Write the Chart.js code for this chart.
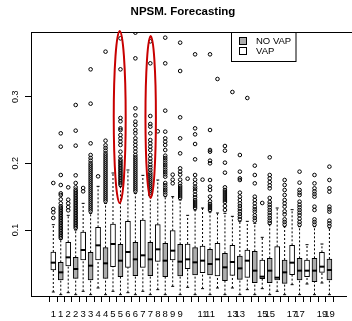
<!DOCTYPE html>
<html>
<head>
<meta charset="utf-8">
<title>NPSM. Forecasting</title>
<script src="https://cdn.jsdelivr.net/npm/chart.js@4.4.0/dist/chart.umd.min.js"></script>
<style>
  html, body { margin: 0; padding: 0; background: #fff; overflow: hidden; }
  #wrap { width: 352px; height: 321px; }
</style>
</head>
<body>
<div id="wrap"><canvas id="chart" width="352" height="321"></canvas></div>
<script>
  // Groups on the x axis (each group has a VAP box then a NO VAP box)
  const groups = ['1', '2', '3', '4', '5', '6', '7', '8', '9', '10', '11', '12', '13', '14', '15', '16', '17', '18', '19'];

  // Tick labels as R printed them (overlapping ones dropped)
  const xTickLabels = ['1', '1', '2', '2', '3', '3', '4', '4', '5', '5', '6', '6', '7', '7', '8', '8', '9', '9',
    '', '', '11', '11', '', '', '13', '13', '', '', '15', '15', '', '', '17', '17', '', '', '19', '19'];
  const yTicks = [0.1, 0.2, 0.3];

  // VAP (white boxes)
  const vapLow = [0.007, 0.006, 0.008, 0.013, 0.008, 0.006, 0.008, 0.0105, 0.0155, 0.014, 0.012, 0.013, 0.013, 0.0105, 0.012, 0.008, 0.018, 0.019, 0.0205];
  const vapQ1 = [0.040, 0.046, 0.055, 0.055, 0.045, 0.044, 0.044, 0.053, 0.055, 0.042, 0.036, 0.031, 0.032, 0.029, 0.027, 0.025, 0.033, 0.030, 0.0365];
  const vapMedian = [0.051, 0.059, 0.070, 0.077, 0.079, 0.067, 0.062, 0.071, 0.069, 0.056, 0.054, 0.056, 0.052, 0.054, 0.030, 0.0285, 0.051, 0.039, 0.045];
  const vapQ3 = [0.067, 0.0815, 0.097, 0.104, 0.109, 0.113, 0.115, 0.108, 0.099, 0.079, 0.076, 0.080, 0.077, 0.070, 0.055, 0.075, 0.077, 0.055, 0.0665];
  const vapHigh = [0.108, 0.122, 0.14, 0.1655, 0.1855, 0.19, 0.182, 0.175, 0.15, 0.122, 0.133, 0.1255, 0.1205, 0.113, 0.089, 0.133, 0.1305, 0.078, 0.079];
  const vapOutliers = [
    [0.118, 0.1265, 0.1315, 0.1705],
    [0.1295, 0.1345, 0.14, 0.1455, 0.164],
    [0.158, 0.163],
    [0.1805],
    [],
    [],
    [],
    [0.248],
    [0.17, 0.1755, 0.183],
    [0.177],
    [0.1755],
    [0.3265],
    [0.307],
    [0.298],
    [0.1405],
    [],
    [],
    [],
    []
  ];

  // NO VAP (grey boxes)
  const noVapLow = [0.003, 0.003, 0.003, 0.003, 0.003, 0.003, 0.003, 0.003, 0.003, 0.003, 0.003, 0.003, 0.003, 0.003, 0.003, 0.003, 0.003, 0.003, 0.003];
  const noVapQ1 = [0.025, 0.0275, 0.025, 0.0275, 0.03, 0.0315, 0.0315, 0.03, 0.031, 0.0325, 0.0325, 0.024, 0.026, 0.021, 0.021, 0.02, 0.025, 0.0225, 0.025];
  const noVapMedian = [0.0365, 0.0415, 0.0465, 0.05, 0.054, 0.056, 0.056, 0.054, 0.0525, 0.0515, 0.049, 0.044, 0.0425, 0.039, 0.039, 0.0365, 0.039, 0.039, 0.04];
  const noVapQ3 = [0.0515, 0.059, 0.0665, 0.0735, 0.0785, 0.0815, 0.0815, 0.08, 0.0785, 0.0735, 0.071, 0.065, 0.061, 0.068, 0.0575, 0.055, 0.0575, 0.0575, 0.0565];
  const noVapHigh = [0.086, 0.1, 0.125, 0.14, 0.165, 0.155, 0.15, 0.15, 0.145, 0.13, 0.127, 0.125, 0.113, 0.11, 0.108, 0.105, 0.105, 0.105, 0.103];
  const noVapOutliers = [
    [0.088, 0.0905, 0.093, 0.0955, 0.098, 0.1005, 0.103, 0.1055, 0.108, 0.1105, 0.113, 0.1155, 0.118, 0.1205, 0.123, 0.1255, 0.128, 0.1305, 0.133, 0.1355, 0.14, 0.146, 0.1525, 0.155, 0.1675, 0.1825, 0.225, 0.245],
    [0.103, 0.1055, 0.108, 0.1105, 0.113, 0.1155, 0.118, 0.1205, 0.123, 0.1255, 0.128, 0.1305, 0.133, 0.1355, 0.138, 0.1405, 0.143, 0.1455, 0.148, 0.1505, 0.153, 0.1555, 0.158, 0.1605, 0.164, 0.1705, 0.182, 0.2265, 0.249, 0.2875],
    [0.128, 0.131, 0.134, 0.137, 0.14, 0.143, 0.146, 0.149, 0.152, 0.155, 0.158, 0.161, 0.164, 0.167, 0.17, 0.173, 0.176, 0.179, 0.182, 0.185, 0.188, 0.191, 0.194, 0.197, 0.2, 0.204, 0.208, 0.2125, 0.23, 0.2895, 0.341],
    [0.143, 0.146, 0.149, 0.152, 0.155, 0.158, 0.161, 0.164, 0.167, 0.17, 0.173, 0.176, 0.179, 0.182, 0.185, 0.188, 0.191, 0.194, 0.197, 0.2, 0.203, 0.206, 0.209, 0.212, 0.215, 0.219, 0.223, 0.227, 0.234, 0.3675],
    [0.168, 0.1705, 0.173, 0.1755, 0.178, 0.1805, 0.183, 0.1855, 0.188, 0.1905, 0.193, 0.1955, 0.198, 0.2005, 0.203, 0.2055, 0.21, 0.2175, 0.2275, 0.2325, 0.2375, 0.2425, 0.25, 0.2525, 0.263, 0.268, 0.341, 0.3875],
    [0.158, 0.161, 0.164, 0.167, 0.17, 0.173, 0.176, 0.179, 0.182, 0.185, 0.188, 0.191, 0.194, 0.197, 0.2, 0.203, 0.206, 0.209, 0.2125, 0.2175, 0.2225, 0.2275, 0.2325, 0.2375, 0.245, 0.25, 0.2575, 0.2625, 0.272, 0.2825, 0.3575, 0.396],
    [0.153, 0.156, 0.159, 0.162, 0.165, 0.168, 0.171, 0.174, 0.177, 0.18, 0.183, 0.186, 0.19, 0.194, 0.198, 0.2025, 0.207, 0.2125, 0.22, 0.225, 0.23, 0.235, 0.245, 0.255, 0.259, 0.271, 0.35, 0.383],
    [0.153, 0.1565, 0.16, 0.1635, 0.167, 0.1705, 0.18, 0.1835, 0.187, 0.1905, 0.194, 0.1975, 0.201, 0.2045, 0.208, 0.2115, 0.22, 0.2275, 0.2325, 0.2375, 0.2475, 0.279, 0.35, 0.3885],
    [0.148, 0.151, 0.154, 0.157, 0.16, 0.163, 0.166, 0.17, 0.1755, 0.183, 0.1875, 0.1925, 0.215, 0.2375, 0.269, 0.3385, 0.381],
    [0.133, 0.136, 0.139, 0.142, 0.145, 0.149, 0.153, 0.158, 0.162, 0.165, 0.17, 0.1755, 0.1825, 0.206, 0.229, 0.2435, 0.2525, 0.3635],
    [0.13, 0.133, 0.136, 0.139, 0.143, 0.15, 0.16, 0.165, 0.175, 0.2, 0.204, 0.2175, 0.22, 0.25, 0.3635],
    [0.13, 0.136, 0.142, 0.145, 0.148, 0.151, 0.154, 0.157, 0.16, 0.164, 0.186, 0.201, 0.219, 0.226],
    [0.116, 0.12, 0.124, 0.128, 0.132, 0.136, 0.14, 0.145, 0.15, 0.156, 0.175, 0.1775, 0.1875, 0.2125],
    [0.114, 0.118, 0.122, 0.1275, 0.131, 0.135, 0.14, 0.145, 0.15, 0.17, 0.1825, 0.1965],
    [0.1105, 0.114, 0.118, 0.122, 0.126, 0.13, 0.134, 0.138, 0.142, 0.148, 0.1625, 0.167, 0.172, 0.1775, 0.1825, 0.209],
    [0.108, 0.112, 0.116, 0.1235, 0.128, 0.135, 0.14, 0.145, 0.1525, 0.16, 0.1675, 0.175],
    [0.108, 0.112, 0.117, 0.122, 0.126, 0.13, 0.134, 0.138, 0.1425, 0.1525, 0.156, 0.16, 0.171, 0.1875],
    [0.108, 0.112, 0.116, 0.13, 0.135, 0.15, 0.154, 0.158, 0.1625, 0.17, 0.1825],
    [0.106, 0.11, 0.114, 0.1275, 0.131, 0.135, 0.1575, 0.1625, 0.175, 0.195]
  ];

  // Red hand-drawn ellipses (box number, value range)
  const highlights = [
    { box: 9.9, from: 0.1405, to: 0.3985, halfWidth: 0.8 },
    { box: 14.05, from: 0.148, to: 0.391, halfWidth: 0.7 }
  ];

  const VAP_FILL = '#ffffff';
  const NOVAP_FILL = '#acacac';
  const FONT = '"Liberation Sans", Arial, sans-serif';

  // one entry per box, VAP first in each group
  const boxes = [];
  groups.forEach((g, i) => {
    boxes.push({ x: 2 * i + 1, lo: vapLow[i], q1: vapQ1[i], med: vapMedian[i], q3: vapQ3[i], hi: vapHigh[i], out: vapOutliers[i], fill: VAP_FILL });
    boxes.push({ x: 2 * i + 2, lo: noVapLow[i], q1: noVapQ1[i], med: noVapMedian[i], q3: noVapQ3[i], hi: noVapHigh[i], out: noVapOutliers[i], fill: NOVAP_FILL });
  });

  const whiskerData = [];
  const capData = [];
  const outlierData = [];
  boxes.forEach(b => {
    whiskerData.push({ x: b.x, y: b.lo }, { x: b.x, y: b.q1 }, { x: b.x, y: null });
    whiskerData.push({ x: b.x, y: b.q3 }, { x: b.x, y: b.hi }, { x: b.x, y: null });
    capData.push({ x: b.x, y: b.lo }, { x: b.x, y: b.hi });
    b.out.forEach(v => outlierData.push({ x: b.x, y: v }));
  });

  // Title, axis labels, frame top, legend and ellipses
  const decorations = {
    id: 'decorations',
    afterDraw(chart) {
      const { ctx, chartArea, scales } = chart;
      ctx.save();

      ctx.strokeStyle = '#000';
      ctx.lineWidth = 1;
      ctx.beginPath();
      ctx.moveTo(chartArea.left, Math.round(chartArea.top) + 0.5);
      ctx.lineTo(chart.width, Math.round(chartArea.top) + 0.5);
      ctx.stroke();

      // y labels, rotated like R's las = 0
      ctx.fillStyle = '#000';
      ctx.font = '9px ' + FONT;
      ctx.textAlign = 'center';
      ctx.textBaseline = 'alphabetic';
      yTicks.forEach(v => {
        ctx.save();
        ctx.translate(chartArea.left - 12.7, scales.y.getPixelForValue(v));
        ctx.rotate(-Math.PI / 2);
        ctx.fillText(v.toFixed(1), 0, 0);
        ctx.restore();
      });

      // x labels
      ctx.font = '9.5px ' + FONT;
      ctx.textBaseline = 'middle';
      xTickLabels.forEach((label, i) => {
        if (label) ctx.fillText(label, scales.x.getPixelForValue(i + 1), chartArea.bottom + 18);
      });

      ctx.font = 'bold 11.5px ' + FONT;
      ctx.textBaseline = 'alphabetic';
      ctx.fillText('NPSM. Forecasting', 183, 15);

      ctx.strokeStyle = '#c80000';
      ctx.lineWidth = 2;
      highlights.forEach(h => {
        const cx = scales.x.getPixelForValue(h.box);
        const rx = scales.x.getPixelForValue(h.box + h.halfWidth) - cx;
        const top = scales.y.getPixelForValue(h.to);
        const bottom = scales.y.getPixelForValue(h.from);
        ctx.beginPath();
        ctx.ellipse(cx, (top + bottom) / 2, rx, (bottom - top) / 2, 0, 0, Math.PI * 2);
        ctx.stroke();
      });

      // legend box
      const lx = 231.5, ly = Math.round(chartArea.top) + 0.5;
      ctx.fillStyle = '#fff';
      ctx.fillRect(lx, ly, 64.5, 29);
      ctx.strokeStyle = '#000';
      ctx.lineWidth = 1;
      ctx.strokeRect(lx, ly, 64.5, 29);
      [['NO VAP', NOVAP_FILL, 8.5], ['VAP', VAP_FILL, 18.5]].forEach(([label, fill, dy]) => {
        ctx.fillStyle = fill;
        ctx.fillRect(lx + 8, ly + dy - 3.5, 7, 7);
        ctx.strokeRect(lx + 8, ly + dy - 3.5, 7, 7);
        ctx.fillStyle = '#000';
        ctx.font = '9.5px ' + FONT;
        ctx.textAlign = 'left';
        ctx.textBaseline = 'middle';
        ctx.fillText(label, lx + 24.5, ly + dy);
      });

      ctx.restore();
    }
  };

  new Chart(document.getElementById('chart'), {
    type: 'bar',
    data: {
      datasets: [
        {
          type: 'line',
          data: whiskerData,
          borderColor: '#000',
          borderWidth: 1,
          borderDash: [2, 2],
          pointRadius: 0,
          spanGaps: false,
          order: 5
        },
        {
          type: 'scatter',
          data: capData,
          pointStyle: 'line',
          pointRadius: 1.5,
          borderColor: '#000',
          borderWidth: 1,
          order: 4
        },
        {
          type: 'bar',
          data: boxes.map(b => ({ x: b.x, y: [b.q1, b.q3] })),
          backgroundColor: boxes.map(b => b.fill),
          borderColor: '#000',
          borderWidth: 1,
          borderSkipped: false,
          barThickness: 5,
          order: 3
        },
        {
          type: 'scatter',
          data: boxes.map(b => ({ x: b.x, y: b.med })),
          pointStyle: 'line',
          pointRadius: 2.5,
          borderColor: '#000',
          borderWidth: 2,
          order: 2
        },
        {
          type: 'scatter',
          data: outlierData,
          pointStyle: 'circle',
          pointRadius: 1.8,
          borderColor: '#000',
          backgroundColor: 'rgba(0,0,0,0)',
          borderWidth: 1,
          order: 1
        }
      ]
    },
    options: {
      responsive: false,
      animation: false,
      layout: { padding: { left: 25, top: 32, right: 0, bottom: 19 } },
      plugins: {
        legend: { display: false },
        title: { display: false },
        tooltip: { enabled: false }
      },
      scales: {
        x: {
          type: 'linear',
          min: -1.4325,
          max: 39.667,
          afterBuildTicks: scale => { scale.ticks = xTickLabels.map((l, i) => ({ value: i + 1 })); },
          ticks: { display: false },
          grid: { display: true, drawOnChartArea: false, drawTicks: true, tickLength: 6, color: '#000' },
          border: { display: true, color: '#000' }
        },
        y: {
          min: 0.001,
          max: 0.397,
          afterBuildTicks: scale => { scale.ticks = yTicks.map(v => ({ value: v })); },
          ticks: { display: false },
          grid: { display: true, drawOnChartArea: false, drawTicks: true, tickLength: 6, color: '#000' },
          border: { display: true, color: '#000' }
        }
      }
    },
    plugins: [decorations]
  });
</script>
</body>
</html>
